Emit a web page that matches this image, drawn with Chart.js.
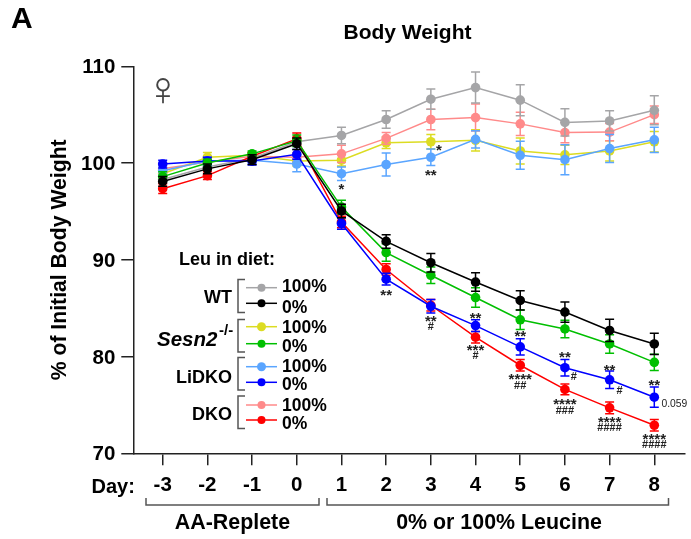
<!DOCTYPE html>
<html>
<head>
<meta charset="utf-8">
<script src="https://cdn.jsdelivr.net/npm/chart.js@4"></script>
<style>
  html, body { margin: 0; padding: 0; background: #fff; }
  #wrap { width: 691px; height: 539px; }
</style>
</head>
<body>
<div id="wrap"><canvas id="chart" width="691" height="539"></canvas></div>
<script>
const days = [-3, -2, -1, 0, 1, 2, 3, 4, 5, 6, 7, 8];
const yTicks = [70, 80, 90, 100, 110];

const wt100 = [98.3, 99.6, 100.5, 102.2, 102.85, 104.5, 106.6, 107.8, 106.5, 104.2, 104.35, 105.45];
const wt0 = [98.1, 99.4, 100.35, 102.0, 95.05, 91.9, 89.7, 87.7, 85.8, 84.6, 82.7, 81.3];
const sesn100 = [98.9, 100.6, 100.8, 100.2, 100.3, 102.1, 102.2, 102.35, 101.25, 100.85, 101.25, 102.2];
const sesn0 = [98.6, 100.0, 100.95, 102.3, 95.45, 90.75, 88.4, 86.1, 83.8, 82.85, 81.3, 79.4];
const lidko100 = [99.2, 100.2, 100.3, 99.9, 98.9, 99.85, 100.6, 102.45, 100.8, 100.35, 101.5, 102.4];
const lidko0 = [99.9, 100.2, 100.2, 100.9, 93.75, 88.0, 85.2, 83.2, 81.0, 78.85, 77.6, 75.8];
const dko100 = [99.4, 100.1, 100.7, 100.6, 100.95, 102.55, 104.5, 104.7, 104.05, 103.15, 103.2, 105.0];
const dko0 = [97.35, 98.7, 100.7, 102.5, 93.9, 89.0, 85.3, 82.0, 79.1, 76.6, 74.7, 72.9];

const wt100Err = [0.4, 0.5, 0.4, 0.5, 0.85, 0.9, 1.05, 1.6, 1.6, 1.4, 1.05, 1.5];
const wt0Err = [0.5, 0.5, 0.5, 0.6, 0.7, 0.7, 0.95, 0.95, 1.0, 1.05, 1.15, 1.1];
const sesn100Err = [0.4, 0.5, 0.3, 0.5, 0.6, 0.6, 0.75, 1.1, 1.35, 1.0, 1.05, 1.05];
const sesn0Err = [0.5, 0.4, 0.3, 0.6, 0.7, 0.9, 0.85, 1.0, 1.0, 0.9, 0.95, 0.85];
const lidko100Err = [0.4, 0.4, 0.4, 0.8, 0.7, 1.2, 0.85, 0.9, 1.45, 1.55, 1.45, 1.3];
const lidko0Err = [0.4, 0.4, 0.4, 0.5, 0.6, 0.6, 0.7, 0.6, 0.85, 0.85, 0.9, 1.05];
const dko100Err = [0.4, 0.4, 0.4, 0.5, 0.9, 0.6, 1.05, 1.4, 1.2, 1.05, 0.9, 0.9];
const dko0Err = [0.5, 0.4, 0.4, 0.6, 0.6, 0.6, 0.6, 0.6, 0.6, 0.55, 0.6, 0.6];

// day, value, text
const marks = [
  [1, 97.6, '*'], [3.18, 101.66, '*'], [3, 99.1, '**'], [2, 86.7, '**'],
  [3, 84.0, '**'], [3, 83.2, '#'], [4, 84.26, '**'], [4, 81.0, '***'], [4, 80.16, '#'],
  [5, 82.4, '**'], [5, 78.0, '****'], [5, 77.1, '##'],
  [6, 80.26, '**'], [6.2, 78.0, '#'], [6, 75.4, '****'], [6, 74.45, '###'],
  [7, 78.95, '**'], [7.22, 76.5, '#'], [7, 73.5, '****'], [7, 72.7, '####'],
  [8, 77.4, '**'], [8, 71.8, '****'], [8, 71.0, '####'],
];

const ARIAL = '"Liberation Sans", Arial, sans-serif';

function makeSeries(label, values, err, color, order) {
  return {
    label,
    data: days.map((d, i) => ({ x: d, y: values[i] })),
    err,
    borderColor: color,
    backgroundColor: color,
    pointBackgroundColor: color,
    pointBorderColor: color,
    borderWidth: 1.5,
    pointRadius: 4.8,
    pointBorderWidth: 0,
    tension: 0,
    order,
  };
}

const datasets = [
  makeSeries('WT 100%', wt100, wt100Err, '#a5a5a7', 5),
  makeSeries('WT 0%', wt0, wt0Err, '#000000', 0),
  makeSeries('Sesn2 100%', sesn100, sesn100Err, '#dcdc22', 7),
  makeSeries('Sesn2 0%', sesn0, sesn0Err, '#00bf00', 1),
  makeSeries('LiDKO 100%', lidko100, lidko100Err, '#5aa5ff', 4),
  makeSeries('LiDKO 0%', lidko0, lidko0Err, '#0000ff', 2),
  makeSeries('DKO 100%', dko100, dko100Err, '#ff8a8a', 6),
  makeSeries('DKO 0%', dko0, dko0Err, '#ff0000', 3),
];

// error bars go under each dataset's own line so overlap order stays right
const errorBars = {
  id: 'errorBars',
  beforeDatasetDraw(chart, args) {
    const ds = chart.data.datasets[args.index];
    const { x, y } = chart.scales;
    const ctx = chart.ctx;
    ctx.save();
    ctx.strokeStyle = ds.borderColor;
    ctx.lineWidth = 1.5;
    ds.data.forEach((p, i) => {
      const px = x.getPixelForValue(p.x);
      const hi = y.getPixelForValue(p.y + ds.err[i]);
      const lo = y.getPixelForValue(p.y - ds.err[i]);
      ctx.beginPath();
      ctx.moveTo(px, hi); ctx.lineTo(px, lo);
      ctx.moveTo(px - 4.5, hi); ctx.lineTo(px + 4.5, hi);
      ctx.moveTo(px - 4.5, lo); ctx.lineTo(px + 4.5, lo);
      ctx.stroke();
    });
    ctx.restore();
  },
};

function text(ctx, str, x, y, font, align = 'left', color = '#000') {
  ctx.font = font;
  ctx.textAlign = align;
  ctx.textBaseline = 'alphabetic';
  ctx.fillStyle = color;
  ctx.fillText(str, x, y);
}

function legendRow(ctx, color, y, labelY, label, r) {
  ctx.strokeStyle = color;
  ctx.lineWidth = 1.5;
  ctx.beginPath();
  ctx.moveTo(246, y); ctx.lineTo(277, y);
  ctx.stroke();
  ctx.fillStyle = color;
  ctx.beginPath();
  ctx.arc(261.5, y, r, 0, Math.PI * 2);
  ctx.fill();
  text(ctx, label, 282, labelY, `bold 17.5px ${ARIAL}`);
}

function sideBracket(ctx, top, bottom) {
  ctx.strokeStyle = '#555';
  ctx.lineWidth = 1.5;
  ctx.beginPath();
  ctx.moveTo(245, top); ctx.lineTo(238, top); ctx.lineTo(238, bottom); ctx.lineTo(245, bottom);
  ctx.stroke();
}

function underBracket(ctx, left, right) {
  ctx.strokeStyle = '#555';
  ctx.lineWidth = 1.5;
  ctx.beginPath();
  ctx.moveTo(left, 498); ctx.lineTo(left, 505); ctx.lineTo(right, 505); ctx.lineTo(right, 498);
  ctx.stroke();
}

const extras = {
  id: 'extras',
  afterDraw(chart) {
    const ctx = chart.ctx;
    const { x, y } = chart.scales;
    ctx.save();

    text(ctx, 'A', 11, 28, `bold 30px ${ARIAL}`);
    text(ctx, 'Body Weight', 407.5, 39, `bold 21px ${ARIAL}`, 'center');
    text(ctx, '\u2640', 163, 105, `48px ${ARIAL}`, 'center', '#444');

    // significance marks
    marks.forEach(([d, v, s]) => {
      const px = x.getPixelForValue(d);
      const py = y.getPixelForValue(v);
      if (s[0] === '*') text(ctx, s, px, py + 8, `bold 15px ${ARIAL}`, 'center', '#222');
      else text(ctx, s, px, py + 4, `bold 11px ${ARIAL}`, 'center', '#222');
    });
    text(ctx, '0.059', 661.5, 406.5, `10.3px ${ARIAL}`, 'left', '#222');

    // legend
    text(ctx, 'Leu in diet:', 179, 265, `bold 18px ${ARIAL}`);
    sideBracket(ctx, 279.5, 312.5);
    sideBracket(ctx, 319.5, 352);
    sideBracket(ctx, 357.5, 390);
    sideBracket(ctx, 396, 428.5);
    legendRow(ctx, '#a5a5a7', 287.7, 292, '100%', 4);
    legendRow(ctx, '#000000', 303.3, 312.5, '0%', 4);
    legendRow(ctx, '#dcdc22', 326.7, 332.5, '100%', 4.5);
    legendRow(ctx, '#00bf00', 343.7, 351.5, '0%', 4);
    legendRow(ctx, '#5aa5ff', 366.7, 372, '100%', 4.5);
    legendRow(ctx, '#0000ff', 382.3, 390, '0%', 4);
    legendRow(ctx, '#ff8a8a', 405, 410.5, '100%', 4);
    legendRow(ctx, '#ff0000', 420, 429, '0%', 4);
    text(ctx, 'WT', 232, 303, `bold 18px ${ARIAL}`, 'right');
    text(ctx, 'Sesn2', 157, 346, `italic bold 20.5px ${ARIAL}`);
    text(ctx, '-/-', 219, 335, `bold 15px ${ARIAL}`);
    text(ctx, 'LiDKO', 232, 383, `bold 18px ${ARIAL}`, 'right');
    text(ctx, 'DKO', 232, 420, `bold 18px ${ARIAL}`, 'right');

    // x axis extras
    text(ctx, 'Day:', 91.5, 493, `bold 20px ${ARIAL}`);
    underBracket(ctx, 146, 319);
    underBracket(ctx, 327, 668.5);
    text(ctx, 'AA-Replete', 232.5, 529, `bold 21.4px ${ARIAL}`, 'center');
    text(ctx, '0% or 100% Leucine', 499, 529, `bold 21.4px ${ARIAL}`, 'center');

    ctx.restore();
  },
};

new Chart(document.getElementById('chart'), {
  type: 'line',
  data: { datasets },
  plugins: [errorBars, extras],
  options: {
    responsive: false,
    animation: false,
    devicePixelRatio: 1,
    layout: { padding: { left: 0, top: 66.3, right: 6, bottom: 0 } },
    plugins: { legend: { display: false }, title: { display: false }, tooltip: { enabled: false } },
    scales: {
      x: {
        type: 'linear',
        min: -3.658,
        max: 8.687,
        afterBuildTicks: s => { s.ticks = days.map(v => ({ value: v })); },
        afterFit: s => { s.height = 539 - 453.3; },
        border: { color: '#222', width: 1.5 },
        grid: { drawOnChartArea: false, color: '#222', lineWidth: 1.5, tickLength: 12 },
        ticks: {
          color: '#000',
          padding: 8,
          maxRotation: 0,
          autoSkip: false,
          font: { family: ARIAL, size: 20.5, weight: 'bold' },
        },
      },
      y: {
        type: 'linear',
        min: 70,
        max: 110,
        afterBuildTicks: s => { s.ticks = yTicks.map(v => ({ value: v })); },
        afterFit: s => { s.width = 133.3; },
        border: { color: '#222', width: 1.5 },
        grid: { drawOnChartArea: false, color: '#222', lineWidth: 1.5, tickLength: 12 },
        ticks: {
          color: '#000',
          padding: 6,
          labelOffset: 1.5,
          font: { family: ARIAL, size: 20.5, weight: 'bold' },
        },
        title: {
          display: true,
          text: '% of Initial Body Weight',
          color: '#000',
          padding: { top: 47, bottom: 0 },
          font: { family: ARIAL, size: 21.2, weight: 'bold' },
        },
      },
    },
  },
});
</script>
</body>
</html>
